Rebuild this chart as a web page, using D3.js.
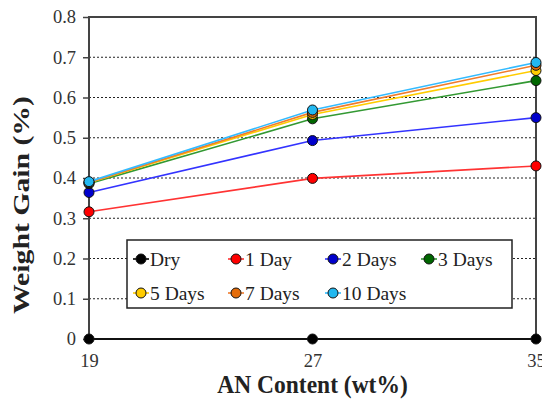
<!DOCTYPE html>
<html>
<head>
<meta charset="utf-8">
<script src="https://cdn.jsdelivr.net/npm/d3@7"></script>
<style>
  body { margin: 0; background: #fff; }
  svg { display: block; font-family: "Liberation Serif", "Times New Roman", serif; }
</style>
</head>
<body>
<svg id="chart"></svg>
<script>
const xValues = [19, 27, 35];
const yTicks = [0, 0.1, 0.2, 0.3, 0.4, 0.5, 0.6, 0.7, 0.8];
const seriesNames = ["Dry", "1 Day", "2 Days", "3 Days", "5 Days", "7 Days", "10 Days"];
const dry = [0, 0, 0];
const day1 = [0.316, 0.399, 0.430];
const days2 = [0.364, 0.493, 0.550];
const days3 = [0.386, 0.547, 0.642];
const days5 = [0.388, 0.558, 0.667];
const days7 = [0.389, 0.563, 0.680];
const days10 = [0.391, 0.569, 0.687];
const lineColors = ["#000000", "#ff3333", "#3333ff", "#339933", "#ffcc00", "#f07c2c", "#33bbff"];
const dotColors = ["#000000", "#ff0000", "#0000cc", "#006600", "#ffcc00", "#e46c0a", "#22b8f0"];

const series = [dry, day1, days2, days3, days5, days7, days10].map((vals, i) => ({
    name: seriesNames[i],
    values: vals.map((v, j) => ({ x: xValues[j], y: v }))
}));

const W = 542, H = 402;
const margin = { top: 17, right: 6, bottom: 63, left: 89 };
const width = W - margin.left - margin.right;
const height = H - margin.top - margin.bottom;

const svg = d3.select("#chart").attr("width", W).attr("height", H);
const g = svg.append("g").attr("transform", `translate(${margin.left},${margin.top})`);

const x = d3.scaleLinear().domain([19, 35]).range([0, width]);
const y = d3.scaleLinear().domain([0, 0.8]).range([height, 0]);

// dotted grid
g.selectAll(".grid")
    .data(yTicks.filter(d => d > 0 && d < 0.8))
    .join("line")
    .attr("x1", 0).attr("x2", width)
    .attr("y1", d => y(d)).attr("y2", d => y(d))
    .attr("stroke", "#222")
    .attr("stroke-width", 1.2)
    .attr("stroke-dasharray", "2,2");

// y axis
const yAxis = g.append("g")
    .call(d3.axisLeft(y).tickValues(yTicks).tickSize(6).tickPadding(7)
        .tickFormat(d => d === 0 ? "0" : d3.format(".1f")(d)));
yAxis.select(".domain").remove();
yAxis.selectAll("line").attr("stroke", "#444").attr("stroke-width", 1.5);
yAxis.selectAll("text").attr("font-size", 18.5).attr("fill", "#333").attr("font-family", "Liberation Serif");

// x axis
const xAxis = g.append("g")
    .attr("transform", `translate(0,${height})`)
    .call(d3.axisBottom(x).tickValues(xValues).tickSize(0).tickPadding(15));
xAxis.select(".domain").remove();
xAxis.selectAll("text").attr("font-size", 18.5).attr("fill", "#333").attr("font-family", "Liberation Serif");

// frame
g.append("rect")
    .attr("width", width).attr("height", height)
    .attr("fill", "none")
    .attr("stroke", "#444")
    .attr("stroke-width", 2);

// lines
const line = d3.line().x(d => x(d.x)).y(d => y(d.y));
g.selectAll(".series")
    .data(series)
    .join("path")
    .attr("d", d => line(d.values))
    .attr("fill", "none")
    .attr("stroke", (d, i) => lineColors[i])
    .attr("stroke-width", 1.6);

series.forEach((s, i) => {
    g.selectAll(".dot" + i)
        .data(s.values)
        .join("circle")
        .attr("cx", d => x(d.x))
        .attr("cy", d => y(d.y))
        .attr("r", 5)
        .attr("fill", dotColors[i])
        .attr("stroke", "#111")
        .attr("stroke-width", 1);
});

// legend
const legend = svg.append("g").attr("transform", "translate(127,240)");
legend.append("rect")
    .attr("width", 385).attr("height", 68)
    .attr("fill", "#fff")
    .attr("stroke", "#222")
    .attr("stroke-width", 1.5);

const colX = [14, 109, 206, 302];
const rowY = [19, 53];
const items = legend.selectAll(".item")
    .data(series)
    .join("g")
    .attr("transform", (d, i) => `translate(${colX[i % 4]},${rowY[Math.floor(i / 4)]})`);
items.append("line")
    .attr("x1", -8).attr("x2", 8)
    .attr("stroke", (d, i) => lineColors[i])
    .attr("stroke-width", 1.6);
items.append("circle")
    .attr("r", 5)
    .attr("fill", (d, i) => dotColors[i])
    .attr("stroke", "#111")
    .attr("stroke-width", 1);
items.append("text")
    .attr("x", 9)
    .attr("dy", "0.35em")
    .attr("font-size", 19.5)
    .attr("fill", "#222")
    .text(d => d.name);

// axis titles
svg.append("text")
    .attr("transform", `translate(${margin.left + width / 2},393) scale(1,1.1)`)
    .attr("text-anchor", "middle")
    .attr("font-size", 23.5)
    .attr("font-weight", "bold")
    .attr("fill", "#222")
    .text("AN Content (wt%)");

svg.append("text")
    .attr("transform", "translate(29,205) rotate(-90)")
    .attr("text-anchor", "middle")
    .attr("font-size", 23.5)
    .attr("font-weight", "bold")
    .attr("fill", "#222")
    .attr("textLength", 218)
    .attr("lengthAdjust", "spacingAndGlyphs")
    .text("Weight Gain (%)");
</script>
</body>
</html>
